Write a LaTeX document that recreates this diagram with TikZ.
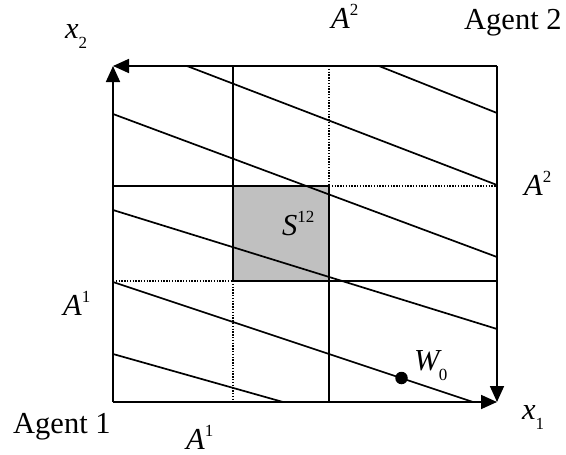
\documentclass[tikz,border=0pt]{standalone}
\usepackage{fontspec}
\setmainfont{Liberation Serif}
\usetikzlibrary{arrows.meta}
\definecolor{shadegray}{RGB}{192,192,192}
\newcommand\mysup[1]{\raisebox{13pt}{\fontsize{17}{18}\selectfont #1}}
\newcommand\mysub[1]{\raisebox{-10pt}{\fontsize{17}{18}\selectfont #1}}
\begin{document}
\begin{tikzpicture}[x=1pt,y=-1pt,
  axis/.style={line width=1.7pt,-{Triangle[length=16pt,width=14pt]}},
  ln/.style={line width=1.7pt},
  thk/.style={line width=2.6pt},
  dots/.style={line width=1.3pt,dash pattern=on 1.3pt off 1.5pt},
  lbl/.style={font=\fontsize{30.5}{34}\selectfont,inner sep=0pt,anchor=base west,text depth=0pt}]
\useasboundingbox (0,0) rectangle (566,455);
% corners
\coordinate (O1) at (113,402);
\coordinate (TL) at (113,66);
\coordinate (O2) at (497,66);
\coordinate (BR) at (497,402);
% grid points
\coordinate (va1) at (233,66);
\coordinate (va2) at (233,281);
\coordinate (va3) at (233,402);
\coordinate (vb1) at (329,66);
\coordinate (vb2) at (329,186);
\coordinate (vb3) at (329,402);
\coordinate (ha1) at (113,186);
\coordinate (ha3) at (497,186);
\coordinate (hb1) at (113,281);
\coordinate (hb3) at (497,281);
% shaded set
\fill[shadegray] (233,186) rectangle (329,281);
% budget lines
\coordinate (l1a) at (187,66);  \coordinate (l1b) at (497,185);
\coordinate (l2a) at (379,66);  \coordinate (l2b) at (497,113);
\coordinate (l3a) at (113,114); \coordinate (l3b) at (497,257);
\coordinate (l4a) at (113,210); \coordinate (l4b) at (497,329);
\coordinate (l5a) at (113,282); \coordinate (l5b) at (473,402);
\coordinate (l6a) at (113,354); \coordinate (l6b) at (283,402);
\foreach \i in {1,...,6} \draw[ln] (l\i a) -- (l\i b);
% grid lines
\draw[ln] (va1) -- (va2);
\draw[dots] (va2) -- (va3);
\draw[dots] (vb1) -- (vb2);
\draw[ln] (vb2) -- (vb3);
\draw[ln] (ha1) -- (vb2);
\draw[dots] (vb2) -- (ha3);
\draw[dots] (hb1) -- (va2);
\draw[thk] (va2) -- (hb3);
\draw[thk] (va2) -- (233,186) -- (vb2) -- (329,281);
% axes
\draw[axis] (O1) -- (TL);
\draw[axis] (O1) -- (BR);
\draw[axis] (O2) -- (TL);
\draw[axis] (O2) -- (BR);
% endowment
\node[circle,fill=black,inner sep=0pt,minimum size=12.5pt] (W) at (401.5,378) {};
% labels
\node[lbl] (lx2) at (65,38) {\textit{x}\mysub{2}};
\node[lbl] (lA2t) at (331,28) {\textit{A}\mysup{2}};
\node[lbl] (lag2) at (464,30) {Agent 2};
\node[lbl] (lA2r) at (524,195) {\textit{A}\mysup{2}};
\node[lbl] (lS) at (282,235) {\textit{S}\mysup{12}};
\node[lbl] (lA1l) at (63,315) {\textit{A}\mysup{1}};
\node[lbl] (lag1) at (13,433) {Agent 1};
\node[lbl] (lA1b) at (186,449) {\textit{A}\mysup{1}};
\node[lbl] (lx1) at (522,419) {\textit{x}\mysub{1}};
\node[lbl] (lW) at (414,370) {\textit{W}\kern-3pt\mysub{0}};
\end{tikzpicture}
\end{document}
